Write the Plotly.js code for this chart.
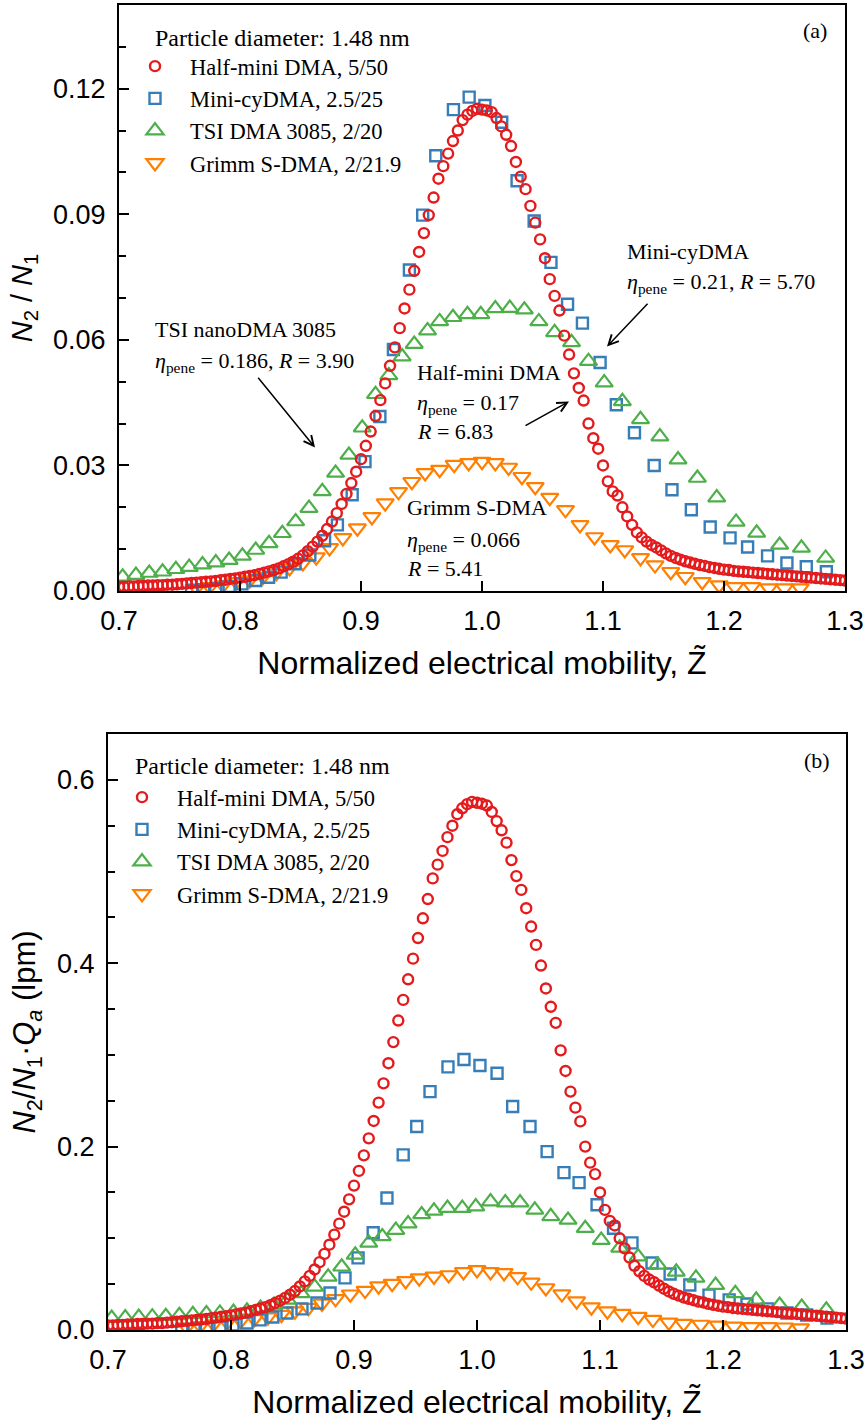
<!DOCTYPE html>
<html>
<head>
<meta charset="utf-8">
<script src="https://cdn.plot.ly/plotly-3.0.1.min.js"></script>
<style>
html,body{margin:0;padding:0;background:#fff;}
#chart{width:864px;height:1426px;}
</style>
</head>
<body>
<div id="chart"></div>
<script>
// ---------------- DATA ----------------
const seriesNames = ["Half-mini DMA, 5/50", "Mini-cyDMA, 2.5/25", "TSI DMA 3085, 2/20", "Grimm S-DMA, 2/21.9"];
const seriesColors = ["#e41a1c", "#377eb8", "#4daf4a", "#ff7f00"];

// Half-mini DMA (red circles), panel (a): N2/N1
const halfMiniX = [0.700,0.704,0.708,0.712,0.716,0.720,0.724,0.728,0.732,0.736,0.740,0.744,0.748,0.752,0.756,0.760,0.764,0.768,0.772,0.776,0.780,0.784,0.788,0.792,0.796,0.800,0.804,0.808,0.812,0.816,0.820,0.824,0.828,0.832,0.836,0.840,0.844,0.848,0.852,0.856,0.860,0.864,0.868,0.872,0.876,0.880,0.884,0.888,0.892,0.896,0.900,0.904,0.908,0.912,0.916,0.920,0.924,0.928,0.932,0.936,0.940,0.944,0.948,0.952,0.956,0.960,0.964,0.968,0.972,0.976,0.980,0.984,0.988,0.992,0.996,1.000,1.004,1.008,1.012,1.016,1.020,1.024,1.028,1.032,1.036,1.040,1.044,1.048,1.052,1.056,1.060,1.064,1.068,1.072,1.076,1.080,1.084,1.088,1.092,1.096,1.100,1.104,1.108,1.112,1.116,1.120,1.124,1.128,1.132,1.136,1.140,1.144,1.148,1.152,1.156,1.160,1.164,1.168,1.172,1.176,1.180,1.184,1.188,1.192,1.196,1.200,1.204,1.208,1.212,1.216,1.220,1.224,1.228,1.232,1.236,1.240,1.244,1.248,1.252,1.256,1.260,1.264,1.268,1.272,1.276,1.280,1.284,1.288,1.292,1.296,1.300];
const halfMiniRatio = [0.0010,0.0010,0.0011,0.0011,0.0012,0.0012,0.0013,0.0013,0.0014,0.0014,0.0015,0.0015,0.0016,0.0017,0.0018,0.0019,0.0020,0.0021,0.0022,0.0023,0.0024,0.0026,0.0027,0.0029,0.0030,0.0032,0.0034,0.0036,0.0038,0.0041,0.0044,0.0047,0.0050,0.0054,0.0059,0.0064,0.0070,0.0077,0.0085,0.0095,0.0106,0.0118,0.0132,0.0148,0.0166,0.0186,0.0208,0.0232,0.0258,0.0285,0.0315,0.0347,0.0381,0.0418,0.0456,0.0496,0.0538,0.0582,0.0628,0.0675,0.0720,0.0765,0.0810,0.0855,0.0898,0.0940,0.0985,0.1015,0.1045,0.1075,0.1100,0.1125,0.1138,0.1147,0.1152,0.1150,0.1148,0.1144,0.1130,0.1110,0.1090,0.1063,0.1025,0.0990,0.0960,0.0920,0.0880,0.0840,0.0795,0.0745,0.0705,0.0670,0.0610,0.0565,0.0520,0.0485,0.0455,0.0400,0.0365,0.0340,0.0300,0.0262,0.0238,0.0228,0.0200,0.0178,0.0158,0.0140,0.0128,0.0118,0.0110,0.0104,0.0097,0.0090,0.0084,0.0079,0.0075,0.0071,0.0068,0.0065,0.0062,0.0060,0.0057,0.0055,0.0053,0.0051,0.0050,0.0048,0.0047,0.0046,0.0045,0.0044,0.0043,0.0042,0.0041,0.0040,0.0039,0.0038,0.0037,0.0036,0.0035,0.0034,0.0033,0.0032,0.0031,0.0030,0.0029,0.0028,0.0027,0.0026,0.0025];
const halfMiniQa = 5; // lpm, aerosol flow used in panel (b)

// Mini-cyDMA (blue squares)
const miniCyX = [0.760,0.770,0.780,0.791,0.8016,0.813,0.8236,0.834,0.8455,0.8577,0.8699,0.8805,0.8927,0.9033,0.9156,0.9268,0.940,0.951,0.9618,0.9764,0.9894,1.0024,1.0163,1.029,1.0431,1.057,1.0707,1.083,1.0976,1.111,1.126,1.1423,1.157,1.173,1.1886,1.205,1.2195,1.236,1.252,1.268,1.2846];
const miniCyRatio = [0.0001,0.0003,0.0006,0.0011,0.0017,0.0025,0.0033,0.0045,0.0065,0.0086,0.0120,0.0158,0.0230,0.0309,0.0417,0.0577,0.0767,0.0898,0.1040,0.1150,0.1180,0.1160,0.1120,0.0980,0.0884,0.0785,0.0685,0.0640,0.0546,0.0445,0.0378,0.0300,0.0242,0.0194,0.0153,0.0127,0.0105,0.0084,0.0067,0.0058,0.0046];
const miniCyFlowed = [0.0005,0.0010,0.0020,0.0033,0.0055,0.0077,0.0110,0.0142,0.0186,0.0230,0.0295,0.0404,0.0568,0.0787,0.1060,0.1440,0.1910,0.2220,0.2600,0.2870,0.2950,0.2885,0.2800,0.2437,0.2220,0.1945,0.1716,0.1607,0.1366,0.1110,0.0950,0.0730,0.0610,0.0490,0.0380,0.0328,0.0284,0.0230,0.0186,0.0164,0.0130];

// TSI DMA 3085 (green up-triangles)
const tsiX = [0.703,0.714,0.725,0.736,0.747,0.758,0.769,0.780,0.791,0.802,0.813,0.824,0.835,0.846,0.857,0.868,0.879,0.890,0.901,0.912,0.923,0.934,0.944,0.955,0.965,0.976,0.988,0.999,1.011,1.023,1.035,1.047,1.060,1.074,1.088,1.101,1.116,1.131,1.147,1.162,1.178,1.194,1.210,1.227,1.246,1.264,1.284];
const tsiRatio = [0.0034,0.0038,0.0043,0.0046,0.0052,0.0057,0.0063,0.0068,0.0074,0.0084,0.0098,0.0114,0.0138,0.0166,0.0198,0.0238,0.0282,0.0325,0.0390,0.0470,0.0515,0.0560,0.0590,0.0622,0.0644,0.0654,0.0661,0.0661,0.0675,0.0676,0.0672,0.0644,0.0618,0.0594,0.0549,0.0498,0.0453,0.0410,0.0369,0.0314,0.0270,0.0223,0.0165,0.0139,0.0110,0.0103,0.0079];
const tsiFlowed = [0.0130,0.0135,0.0140,0.0145,0.0150,0.0160,0.0170,0.0180,0.0186,0.0195,0.0210,0.0240,0.0273,0.0328,0.0400,0.0470,0.0580,0.0690,0.0820,0.0950,0.1020,0.1090,0.1160,0.1260,0.1300,0.1330,0.1330,0.1345,0.1400,0.1390,0.1390,0.1310,0.1240,0.1200,0.1110,0.0980,0.0896,0.0800,0.0710,0.0634,0.0568,0.0490,0.0400,0.0328,0.0273,0.0251,0.0219];

// Grimm S-DMA (orange down-triangles)
const grimmX = [0.764,0.775,0.786,0.797,0.808,0.819,0.830,0.841,0.852,0.863,0.874,0.885,0.897,0.909,0.920,0.931,0.942,0.953,0.965,0.977,0.989,1.000,1.011,1.022,1.033,1.044,1.056,1.069,1.081,1.093,1.106,1.118,1.131,1.143,1.156,1.168,1.182,1.196,1.209,1.223,1.237,1.250,1.263];
const grimmRatio = [0.0007,0.0010,0.0014,0.0022,0.0026,0.0034,0.0043,0.0055,0.0067,0.0081,0.0103,0.0127,0.0150,0.0177,0.0210,0.0237,0.0261,0.0282,0.0290,0.0302,0.0306,0.0309,0.0306,0.0295,0.0273,0.0249,0.0223,0.0194,0.0158,0.0129,0.0110,0.0098,0.0079,0.0062,0.0046,0.0034,0.0022,0.0014,0.0010,0.0010,0.0007,0.0007,0.0007];
const grimmFlowed = [0.0030,0.0045,0.0065,0.0083,0.0100,0.0120,0.0140,0.0168,0.0205,0.0243,0.0290,0.0340,0.0390,0.0430,0.0478,0.0506,0.0536,0.0565,0.0585,0.0600,0.0634,0.0656,0.0634,0.0623,0.0580,0.0520,0.0458,0.0392,0.0315,0.0250,0.0205,0.0178,0.0145,0.0114,0.0083,0.0070,0.0060,0.0050,0.0040,0.0033,0.0033,0.0030,0.0020];

// tick labels / text
const xTitle = "Normalized electrical mobility, Z\u0303";
const yTitleA = "<i>N</i><sub>2</sub> / <i>N</i><sub>1</sub>";
const yTitleB = "<i>N</i><sub>2</sub>/<i>N</i><sub>1</sub>·<i>Q</i><sub><i>a</i></sub> (lpm)";
const legendHeading = "Particle diameter: 1.48 nm";

// ---------------- STYLE ----------------
const W = 864, H = 1426;
const SANS = 'Liberation Sans, Arial, sans-serif';
const SERIF = 'Liberation Serif, Times New Roman, serif';
const markerDefs = [
  {symbol: 'circle-open', size: 10, lw: 2.4},
  {symbol: 'square-open', size: 11, lw: 2.4},
  {symbol: 'triangle-up-open', size: 15, lw: 2.2},
  {symbol: 'triangle-down-open', size: 15, lw: 2.2}
];
const drawOrder = [3, 1, 2, 0]; // red drawn on top

const xsA = [halfMiniX, miniCyX, tsiX, grimmX];
const ysA = [halfMiniRatio, miniCyRatio, tsiRatio, grimmRatio];
const ysB = [halfMiniRatio.map(v => v * halfMiniQa), miniCyFlowed, tsiFlowed, grimmFlowed];

function makeTrace(i, ys, xa, ya, leg) {
  return {
    type: 'scatter', mode: 'markers', x: xsA[i], y: ys[i], xaxis: xa, yaxis: ya,
    name: seriesNames[i], legend: leg, legendrank: i + 1,
    marker: {symbol: markerDefs[i].symbol, size: markerDefs[i].size, color: seriesColors[i],
             line: {color: seriesColors[i], width: markerDefs[i].lw}},
    hoverinfo: 'skip'
  };
}
const traces = [];
drawOrder.forEach(i => traces.push(makeTrace(i, ysA, 'x', 'y', 'legend')));
drawOrder.forEach(i => traces.push(makeTrace(i, ysB, 'x2', 'y2', 'legend2')));

function xAxis(dom, anchor) {
  return {
    domain: dom, anchor: anchor, range: [0.7, 1.3], tick0: 0.7, dtick: 0.1, tickformat: '.1f',
    ticks: 'inside', ticklen: 10, tickwidth: 2, tickcolor: '#000',
    showline: true, linewidth: 2, linecolor: '#000', mirror: true,
    showgrid: false, zeroline: false, ticklabelstandoff: 5, ticklabeloverflow: 'allow',
    tickfont: {family: SANS, size: 27, color: '#000'},
    title: {text: xTitle, font: {family: SANS, size: 32, color: '#000'}, standoff: 16}
  };
}
function yAxis(dom, anchor, range, dtick, fmt, minorD, title, tsize) {
  return {
    domain: dom, anchor: anchor, range: range, tick0: 0, dtick: dtick, tickformat: fmt,
    ticks: 'inside', ticklen: 10, tickwidth: 2, tickcolor: '#000',
    minor: {dtick: minorD, tick0: 0, ticks: 'inside', ticklen: 7, tickwidth: 2, tickcolor: '#000', showgrid: false},
    showline: true, linewidth: 2, linecolor: '#000', mirror: true,
    showgrid: false, zeroline: false, ticklabelstandoff: 6, ticklabeloverflow: 'allow',
    tickfont: {family: SANS, size: 27, color: '#000'},
    title: {text: title, font: {family: SANS, size: tsize, color: '#000'}, standoff: 12}
  };
}

function txt(xref, yref, x, y, text, size, anchor) {
  return {xref: xref, yref: yref, x: x, y: y, text: text, showarrow: false,
          xanchor: anchor || 'left', yanchor: 'middle', font: {family: SERIF, size: size, color: '#000'}};
}
function arrow(xref, yref, x, y, ax, ay) {
  return {xref: xref, yref: yref, x: x, y: y, axref: xref, ayref: yref, ax: ax, ay: ay, text: '',
          font: {family: SERIF, size: 22, color: '#000'},
          showarrow: true, arrowhead: 5, arrowsize: 1.3, arrowwidth: 1.5, arrowcolor: '#000'};
}

const annotations = [
  txt('x', 'y', 1.275, 0.1339, '(a)', 22, 'center'),
  txt('x', 'y', 0.7281, 0.1322, legendHeading, 24),
  txt('x', 'y', 0.7281, 0.0625, 'TSI nanoDMA 3085', 22),
  txt('x', 'y', 0.7281, 0.0546, '<i>η</i><sub>pene</sub> = 0.186, <i>R</i> = 3.90', 22),
  txt('x', 'y', 1.1182, 0.0812, 'Mini-cyDMA', 22),
  txt('x', 'y', 1.1182, 0.0737, '<i>η</i><sub>pene</sub> = 0.21, <i>R</i> = 5.70', 22),
  txt('x', 'y', 0.9446, 0.0522, 'Half-mini DMA', 22),
  txt('x', 'y', 0.9446, 0.0447, '<i>η</i><sub>pene</sub> = 0.17', 22),
  txt('x', 'y', 0.9446, 0.0381, '<i>R</i> = 6.83', 22),
  txt('x', 'y', 0.9364, 0.0199, 'Grimm S-DMA', 22),
  txt('x', 'y', 0.9364, 0.0119, '<i>η</i><sub>pene</sub> = 0.066', 22),
  txt('x', 'y', 0.9364, 0.0053, '<i>R</i> = 5.41', 22),
  arrow('x', 'y', 0.862, 0.0343, 0.814, 0.0513),
  arrow('x', 'y', 1.1033, 0.0584, 1.138, 0.0690),
  arrow('x', 'y', 1.0719, 0.0453, 1.0347, 0.0393),
  txt('x2', 'y2', 1.2764, 0.6208, '(b)', 22, 'center'),
  txt('x2', 'y2', 0.7203, 0.6153, legendHeading, 24)
];

const legendBase = {
  xanchor: 'left', yanchor: 'top', bgcolor: 'rgba(0,0,0,0)', borderwidth: 0,
  font: {family: SERIF, size: 22.5, color: '#000'}, itemwidth: 60, tracegroupgap: 0
};

const layout = {
  width: W, height: H, margin: {l: 0, r: 0, t: 0, b: 0},
  paper_bgcolor: '#fff', plot_bgcolor: '#fff',
  font: {family: SANS, size: 22, color: '#000'},
  showlegend: true,
  xaxis: xAxis([119 / W, 845 / W], 'y'),
  yaxis: yAxis([1 - 591 / H, 1 - 5 / H], 'x', [0, 0.14], 0.03, '.2f', 0.01, yTitleA, 29),
  xaxis2: xAxis([108 / W, 846 / W], 'y2'),
  yaxis2: yAxis([1 - 1330 / H, 1 - 734 / H], 'x2', [0, 0.65], 0.2, '.1f', 0.05, yTitleB, 31),
  legend: Object.assign({}, legendBase, {x: 120 / W, y: 1 - 45 / H}),
  legend2: Object.assign({}, legendBase, {x: 107 / W, y: 1 - 776 / H}),
  annotations: annotations
};

Plotly.newPlot('chart', traces, layout, {displayModeBar: false, responsive: false});
</script>
</body>
</html>
